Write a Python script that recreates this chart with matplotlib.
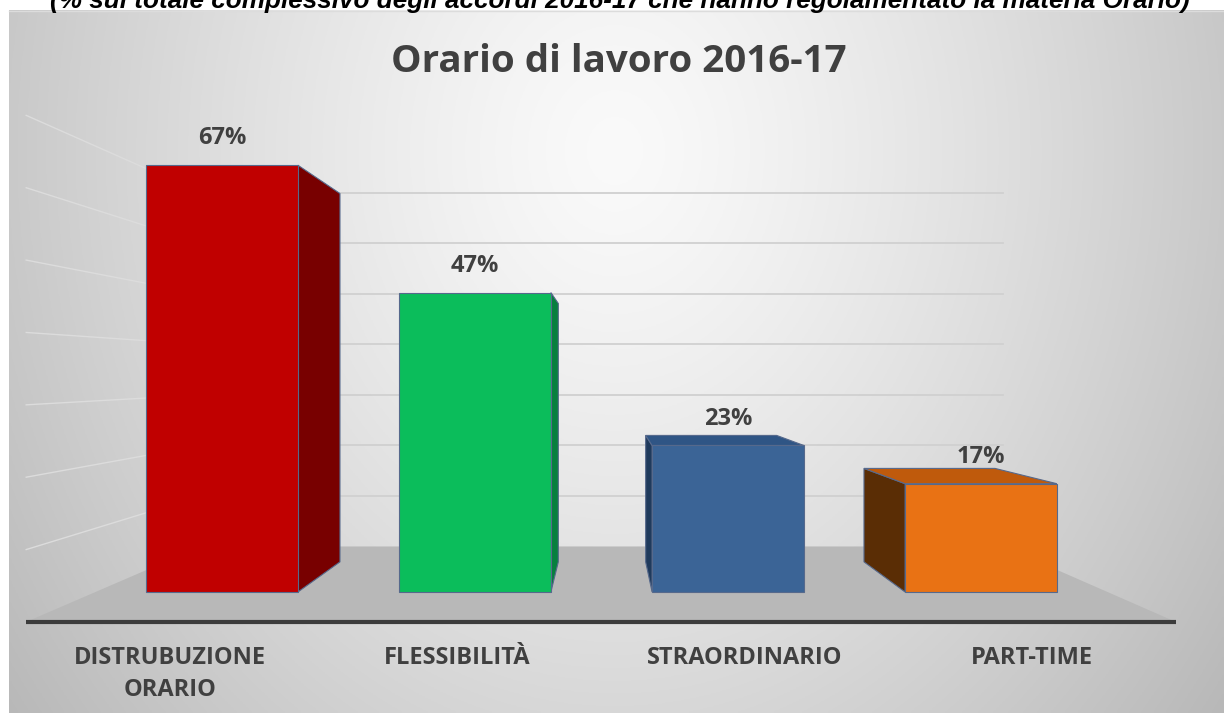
import numpy as np
import matplotlib
matplotlib.use("Agg")
import matplotlib.pyplot as plt
from matplotlib.patches import Polygon

# dati del grafico
categorie = ["DISTRUBUZIONE\nORARIO", "FLESSIBILITÀ", "STRAORDINARIO", "PART-TIME"]
valori = [67, 47, 23, 17]
etichette = ["67%", "47%", "23%", "17%"]
griglia = [10, 20, 30, 40, 50, 60, 70]

titolo = "Orario di lavoro 2016-17"
sottotitolo = "(% sul totale complessivo degli accordi 2016-17 che hanno regolamentato la materia Orario)"

col_fronte = ["#c00000", "#0bbd5b", "#3b6496", "#e97214"]
col_lato = ["#780000", "#07803e", "#1f3a5c", "#5a2d05"]
col_sopra = ["#a00000", "#09a04c", "#2f5585", "#bf5a0c"]

W, H = 1224, 713
fig = plt.figure(figsize=(W / 100, H / 100), dpi=100)
fig.patch.set_facecolor("white")
ax = fig.add_axes([0, 0, 1, 1])
ax.set_xlim(0, W)
ax.set_ylim(H, 0)
ax.axis("off")

# prospettiva finta: punto di fuga e scala del piano frontale
VPX, VPY = 605, 372
X0, DX = 222, 253
Y0, DY = 592, 6.37
K_FRONT, K_BACK = 1.0, 0.863     # profondita' delle barre
K_FLOOR, K_WALL = 1.136, 0.793   # bordo pavimento e parete di fondo
HALF = 0.30


def proj(c, v, k):
    xf = X0 + DX * c
    yf = Y0 - DY * v
    return (VPX + (xf - VPX) * k, VPY + (yf - VPY) * k)


# sfondo con gradiente radiale
gx, gy = np.meshgrid(np.linspace(9, W, 400), np.linspace(10, H, 240))
d = np.sqrt(((gx - 615) / 700) ** 2 + ((gy - 150) / 850) ** 2)
shade = np.clip(0.98 - 0.23 * d ** 1.3, 0, 1)
ax.imshow(np.dstack([shade] * 3), extent=(9, W, H, 10), aspect="auto", zorder=0)
ax.plot([9, W], [10.5, 10.5], color="#dcdcdc", lw=1, zorder=1)

# pavimento
floor = [proj(-0.5, 0, K_FLOOR), proj(3.5, 0, K_FLOOR), proj(3.5, 0, K_WALL), proj(-0.5, 0, K_WALL)]
ax.add_patch(Polygon(floor, closed=True, facecolor="#b8b8b8", edgecolor="none", zorder=2))

# griglia: parete di fondo e parete sinistra
for g in griglia:
    a = proj(-0.5, g, K_WALL)
    b = proj(3.5, g, K_WALL)
    ax.plot([a[0], b[0]], [a[1], b[1]], color="#d0d0d0", lw=1.3, zorder=2)
    c = proj(-0.5, g, K_FLOOR)
    ax.plot([a[0], c[0]], [a[1], c[1]], color="#dcdcdc", lw=1.0, zorder=2)

# linea asse
p1 = proj(-0.5, 0, K_FLOOR)
p2 = proj(3.5, 0, K_FLOOR)
ax.plot([p1[0], p2[0]], [p1[1], p2[1]], color="#3c3c3c", lw=3, solid_capstyle="butt", zorder=3)

edge = "#56698c"
for i, v in enumerate(valori):
    l, r = i - HALF, i + HALF
    z = 4 + i * 0.1
    # lato visibile (verso il punto di fuga)
    xc = proj(i, 0, 1)[0]
    s = r if xc < VPX else l
    lato = [proj(s, 0, K_FRONT), proj(s, v, K_FRONT), proj(s, v, K_BACK), proj(s, 0, K_BACK)]
    ax.add_patch(Polygon(lato, closed=True, facecolor=col_lato[i], edgecolor=edge, lw=0.8, zorder=z))
    # faccia superiore se sotto l'orizzonte
    if Y0 - DY * v > VPY:
        sopra = [proj(l, v, K_FRONT), proj(r, v, K_FRONT), proj(r, v, K_BACK), proj(l, v, K_BACK)]
        ax.add_patch(Polygon(sopra, closed=True, facecolor=col_sopra[i], edgecolor=edge, lw=0.8, zorder=z))
    fronte = [proj(l, 0, K_FRONT), proj(r, 0, K_FRONT), proj(r, v, K_FRONT), proj(l, v, K_FRONT)]
    ax.add_patch(Polygon(fronte, closed=True, facecolor=col_fronte[i], edgecolor=edge, lw=0.8, zorder=z + 0.05))
    # etichetta valore
    tx, ty = proj(i, v + 4.2, K_FRONT)
    ax.text(tx, ty, etichette[i], ha="center", va="center", fontsize=17, fontweight="bold",
            family="Open Sans", color="#404040", zorder=6)
    # etichetta categoria
    cx, cy = proj(i, 0, K_FLOOR)
    ax.text(cx, 646, categorie[i], ha="center", va="top", fontsize=17, fontweight="bold",
            family="Open Sans", color="#404040", linespacing=1.45, zorder=6)

ax.text(619, 72, titolo, ha="center", va="baseline", fontsize=27.7, fontweight="bold",
        family="Open Sans", color="#404040", zorder=6)
ax.text(620, 8, sottotitolo, ha="center", va="baseline", fontsize=18.8, fontweight="bold",
        style="italic", family="Liberation Sans", color="black", zorder=6)

fig.savefig("out.png", dpi=100, facecolor=fig.get_facecolor())
